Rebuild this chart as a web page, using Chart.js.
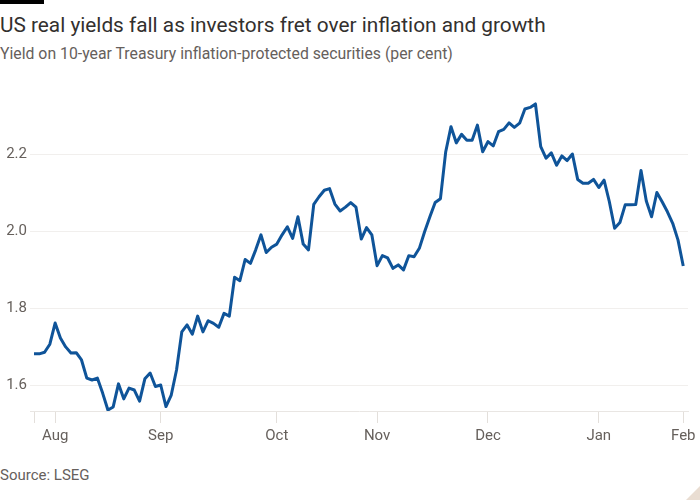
<!DOCTYPE html>
<html>
<head>
<meta charset="utf-8">
<script src="https://cdn.jsdelivr.net/npm/chart.js@4.4.1/dist/chart.umd.min.js"></script>
<style>
  body { margin: 0; background: #fff; width: 700px; height: 500px; overflow: hidden; position: relative; }
  .txt { position: absolute; left: 0; white-space: nowrap; line-height: 1; }
  #bar { position: absolute; left: 0; top: 0; width: 44px; height: 4px; background: #000; }
  #title { top: 15px; font-family: "Liberation Sans Narrow", "Roboto", sans-serif; font-size: 20.8px; color: #33302e; }
  #subtitle { top: 46px; font-family: "Liberation Sans Narrow", "Roboto", sans-serif; font-size: 15.8px; color: #66605c; }
  #source { top: 468px; font-family: "Liberation Sans Narrow", "Roboto", sans-serif; font-size: 15px; color: #66605c; }
  #chart { position: absolute; left: 0; top: 70px; }
  #corner { position: absolute; right: 0; bottom: 0; width: 0; height: 0; border-left: 14px solid transparent; border-bottom: 14px solid #e9ddd2; }
</style>
</head>
<body>
<div id="bar"></div>
<div id="title" class="txt">US real yields fall as investors fret over inflation and growth</div>
<div id="subtitle" class="txt">Yield on 10-year Treasury inflation-protected securities (per cent)</div>
<canvas id="chart" width="700" height="380"></canvas>
<div id="source" class="txt">Source: LSEG</div>
<div id="corner"></div>
<script>
// 10-year TIPS yield, one value per trading day
var yields = [
  1.681, 1.681, 1.685, 1.706, 1.761, 1.722, 1.699, 1.683, 1.684, 1.665,
  1.618, 1.613, 1.618, 1.579, 1.535, 1.543, 1.603, 1.564, 1.592, 1.587,
  1.558, 1.616, 1.631, 1.596, 1.600, 1.544, 1.574, 1.639, 1.738, 1.756,
  1.732, 1.779, 1.738, 1.767, 1.760, 1.750, 1.786, 1.779, 1.880, 1.871,
  1.926, 1.916, 1.951, 1.990, 1.944, 1.958, 1.966, 1.990, 2.011, 1.981,
  2.037, 1.966, 1.951, 2.069, 2.089, 2.106, 2.110, 2.070, 2.052, 2.062,
  2.074, 2.062, 1.979, 2.009, 1.990, 1.910, 1.936, 1.930, 1.903, 1.912,
  1.899, 1.936, 1.933, 1.955, 1.998, 2.037, 2.074, 2.084, 2.206, 2.271,
  2.229, 2.251, 2.236, 2.236, 2.275, 2.206, 2.232, 2.221, 2.258, 2.264,
  2.281, 2.269, 2.280, 2.317, 2.321, 2.330, 2.219, 2.189, 2.203, 2.171,
  2.195, 2.183, 2.200, 2.134, 2.124, 2.124, 2.134, 2.113, 2.132, 2.076,
  2.007, 2.022, 2.068, 2.068, 2.069, 2.157, 2.078, 2.037, 2.100, 2.076,
  2.050, 2.020, 1.977, 1.909
];
// x tick positions (index into yields) and their labels
var monthIdx = [0, 4, 24, 46, 65, 86, 107, 123];
var monthLabels = ['', 'Aug', 'Sep', 'Oct', 'Nov', 'Dec', 'Jan', 'Feb'];
var yTicks = [1.6, 1.8, 2.0, 2.2];

var tickFont = { family: 'Roboto', size: 15 };
var points = yields.map(function(v, i) { return { x: i, y: v }; });

var ctx = document.getElementById('chart').getContext('2d');
var chart = new Chart(ctx, {
  type: 'line',
  data: {
    datasets: [{
      data: points,
      borderColor: '#0f5499',
      borderWidth: 3,
      pointRadius: 0,
      tension: 0,
      fill: false,
      borderJoinStyle: 'round'
    }]
  },
  options: {
    responsive: false,
    animation: false,
    layout: { padding: { top: 7, right: 12, left: 0, bottom: 0 } },
    plugins: { legend: { display: false }, tooltip: { enabled: false } },
    scales: {
      x: {
        type: 'linear',
        min: -0.76,
        max: 123.9,
        afterBuildTicks: function(axis) {
          axis.ticks = monthIdx.map(function(v) { return { value: v }; });
        },
        afterFit: function(axis) { axis.height = 39; },
        ticks: {
          autoSkip: false,
          maxRotation: 0,
          padding: 4,
          color: '#66605c',
          font: tickFont,
          callback: function(v, i) { return monthLabels[i]; }
        },
        grid: { drawOnChartArea: false, drawTicks: true, tickLength: 12, color: '#e3dfdb' },
        border: { display: true, color: '#e9e6e3' }
      },
      y: {
        min: 1.5325,
        max: 2.4,
        afterBuildTicks: function(axis) {
          axis.ticks = yTicks.map(function(v) { return { value: v }; });
        },
        afterFit: function(axis) {
          axis.width = 30;
          axis.paddingTop = 0;
          axis.paddingBottom = 0;
        },
        ticks: {
          padding: 3,
          color: '#66605c',
          font: tickFont,
          callback: function(v) { return v.toFixed(1); }
        },
        grid: { drawTicks: false, color: '#f1efed' },
        border: { display: false }
      }
    }
  }
});
</script>
</body>
</html>
